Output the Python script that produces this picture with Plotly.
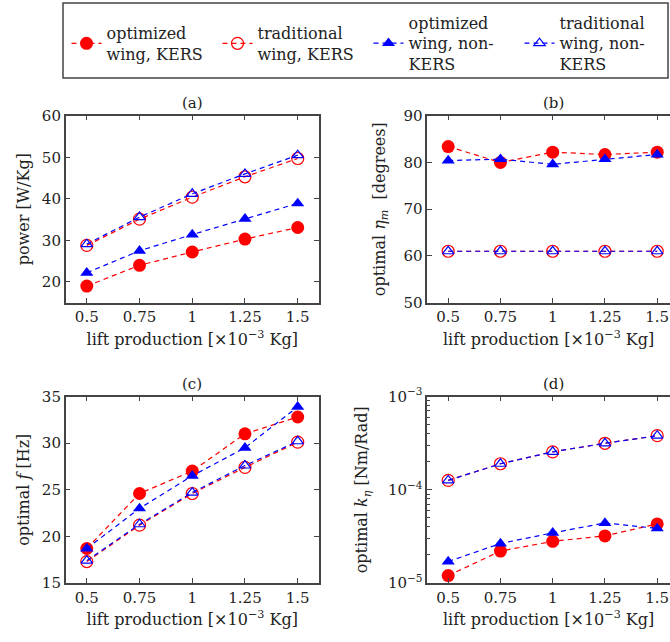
import plotly.graph_objects as go

# ---------------- data ----------------
lift = [0.5, 0.75, 1.0, 1.25, 1.5]
lift_ticks = ["0.5", "0.75", "1", "1.25", "1.5"]

series_names = ["optimized<br>wing, KERS", "traditional<br>wing, KERS",
                "optimized<br>wing, non-<br>KERS", "traditional<br>wing, non-<br>KERS"]

# (a) power [W/Kg]
power_opt_kers = [19.0, 24.0, 27.2, 30.3, 33.1]
power_trad_kers = [28.8, 35.1, 40.4, 45.3, 49.7]
power_opt_non = [22.2, 27.5, 31.4, 35.2, 38.9]
power_trad_non = [29.1, 35.6, 41.2, 46.0, 50.5]

# (b) optimal eta_m [degrees]
eta_opt_kers = [83.4, 80.0, 82.2, 81.7, 82.2]
eta_trad_kers = [61.0, 61.0, 61.0, 61.0, 61.0]
eta_opt_non = [80.4, 80.7, 79.6, 80.7, 81.7]
eta_trad_non = [61.0, 61.0, 61.0, 61.0, 61.0]

# (c) optimal f [Hz]
f_opt_kers = [18.7, 24.6, 27.0, 31.0, 32.8]
f_trad_kers = [17.3, 21.2, 24.6, 27.4, 30.1]
f_opt_non = [18.7, 23.0, 26.5, 29.5, 33.9]
f_trad_non = [17.4, 21.3, 24.7, 27.6, 30.2]

# (d) optimal k_eta [Nm/Rad]
k_opt_kers = [1.2e-5, 2.2e-5, 2.8e-5, 3.2e-5, 4.3e-5]
k_trad_kers = [1.26e-4, 1.9e-4, 2.55e-4, 3.15e-4, 3.8e-4]
k_opt_non = [1.7e-5, 2.65e-5, 3.45e-5, 4.4e-5, 3.85e-5]
k_trad_non = [1.26e-4, 1.9e-4, 2.55e-4, 3.15e-4, 3.8e-4]

panels = [
    ("x", "y", [power_opt_kers, power_trad_kers, power_opt_non, power_trad_non]),
    ("x2", "y2", [eta_opt_kers, eta_trad_kers, eta_opt_non, eta_trad_non]),
    ("x3", "y3", [f_opt_kers, f_trad_kers, f_opt_non, f_trad_non]),
    ("x4", "y4", [k_opt_kers, k_trad_kers, k_opt_non, k_trad_non]),
]

RED = "#ff0000"
BLUE = "#0000ff"
styles = [
    dict(color=RED, symbol="circle", size=13, fill=True),
    dict(color=RED, symbol="circle-open", size=12, fill=False),
    dict(color=BLUE, symbol="triangle-up", size=11.5, fill=True),
    dict(color=BLUE, symbol="triangle-up-open", size=10, fill=False),
]
legend_ids = ["legend", "legend2", "legend3", "legend4"]

FONT = "DejaVu Serif"
TXT = "#222222"
AX = "#444444"

fig = go.Figure()
for pi, (xa, ya, sers) in enumerate(panels):
    for si, vals in enumerate(sers):
        st = styles[si]
        marker = dict(symbol=st["symbol"], size=st["size"], color=st["color"])
        if st["fill"]:
            marker["line"] = dict(width=0)
        else:
            marker["line"] = dict(width=1.2, color=st["color"])
        fig.add_trace(go.Scatter(
            x=lift, y=vals, xaxis=xa, yaxis=ya, mode="lines+markers",
            name=series_names[si], legendgroup=str(si), showlegend=(pi == 0),
            legend=legend_ids[si],
            line=dict(color=st["color"], width=1.2, dash="5px,4px"),
            marker=marker, cliponaxis=False,
        ))

W, H = 670, 642
left_dom = [65.7 / W, 318.8 / W]
right_dom = [427.3 / W, 1.0]
top_dom = [1 - 302.7 / H, 1 - 115.7 / H]
bot_dom = [1 - 583.0 / H, 1 - 396.5 / H]
right_range = [0.4, 0.4 + (W - 427.3) / 209.0]

tickfont = dict(family=FONT, size=15, color=TXT)
titlefont = dict(family=FONT, size=16, color=TXT)
xtitle = "lift production [×10<sup>−3</sup> Kg]"


def xax(dom, rng, anchor):
    return dict(domain=dom, range=rng, anchor=anchor, tickvals=lift, ticktext=lift_ticks,
                ticks="inside", ticklen=5, tickcolor=AX, tickwidth=1,
                showline=True, linecolor=AX, linewidth=1.5, mirror="allticks",
                showgrid=False, zeroline=False, tickfont=tickfont, automargin=False,
                title=dict(text=xtitle, font=titlefont, standoff=8))


def yax(dom, rng, anchor, title, mirror=True, standoff=8, **kw):
    d = dict(domain=dom, range=rng, anchor=anchor,
             ticks="inside", ticklen=5, tickcolor=AX, tickwidth=1,
             showline=True, linecolor=AX, linewidth=1.5,
             mirror="allticks" if mirror else False,
             showgrid=False, zeroline=False, tickfont=tickfont, automargin=False,
             title=dict(text=title, font=titlefont, standoff=standoff))
    d.update(kw)
    return d


# legend entries: x position (px) of each entry's left edge, all centred on one row
legend_x_px = [66.5, 217.5, 368.5, 519.5]
legends = {}
for lid, lx in zip(legend_ids, legend_x_px):
    legends[lid] = dict(orientation="v", x=lx / W, y=1 - 43.5 / H, xanchor="left", yanchor="middle",
                        borderwidth=0, bgcolor="rgba(0,0,0,0)",
                        font=dict(family=FONT, size=16, color=TXT),
                        itemwidth=30, valign="middle")

fig.update_layout(
    width=W, height=H, margin=dict(l=0, r=0, t=0, b=0, autoexpand=False),
    paper_bgcolor="white", plot_bgcolor="white",
    font=dict(family=FONT, color=TXT),
    xaxis=xax(left_dom, [0.4, 1.6], "y"),
    yaxis=yax(top_dom, [15, 60], "x", "power [W/Kg]", tickvals=[20, 30, 40, 50, 60]),
    xaxis2=xax(right_dom, right_range, "y2"),
    yaxis2=yax(top_dom, [50, 90], "x2", "optimal <i>η<sub>m</sub></i>  [degrees]", mirror=False,
               standoff=14, tickvals=[50, 60, 70, 80, 90]),
    xaxis3=xax(left_dom, [0.4, 1.6], "y3"),
    yaxis3=yax(bot_dom, [15, 35], "x3", "optimal <i>f</i> [Hz]", tickvals=[15, 20, 25, 30, 35]),
    xaxis4=xax(right_dom, right_range, "y4"),
    yaxis4=yax(bot_dom, [-5, -3], "x4", "optimal <i>k<sub>η</sub></i> [Nm/Rad]", mirror=False,
               standoff=16, type="log", tickvals=[1e-5, 1e-4, 1e-3],
               ticktext=["10<sup>−5</sup>", "10<sup>−4</sup>", "10<sup>−3</sup>"],
               minor=dict(ticks="inside", ticklen=3, tickcolor=AX,
                          tickvals=[m * 10 ** e for e in (-5, -4) for m in range(2, 10)])),
    **legends,
)

# legend frame
fig.add_shape(type="rect", xref="paper", yref="paper",
              x0=63 / W, x1=668 / W, y0=1 - 78 / H, y1=1 - 3 / H,
              line=dict(color=AX, width=1.5), fillcolor="rgba(0,0,0,0)", layer="below")

titles = [("(a)", left_dom, top_dom), ("(b)", right_dom, top_dom),
          ("(c)", left_dom, bot_dom), ("(d)", right_dom, bot_dom)]
for txt, xd, yd in titles:
    xc = (xd[0] + xd[1]) / 2 if xd is left_dom else (427.3 + 679.0) / 2 / W
    fig.add_annotation(text=txt, x=xc, y=yd[1], xref="paper", yref="paper",
                       xanchor="center", yanchor="bottom", yshift=2, showarrow=False,
                       font=dict(family=FONT, size=15, color=TXT))

fig.write_html("out.html")
